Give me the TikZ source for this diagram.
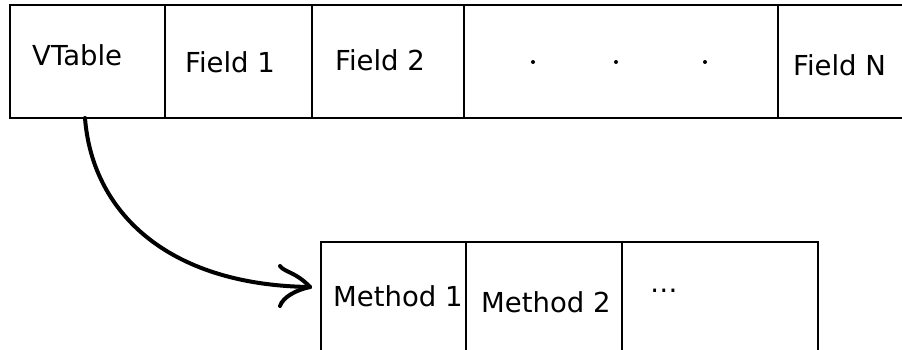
\documentclass[tikz,border=0pt]{standalone}
\usepackage{fontspec}
\setmainfont{DejaVu Sans}
\begin{document}
\begin{tikzpicture}[x=1pt,y=-1pt,
  cell/.style={draw, line width=2.3pt, inner sep=0pt, outer sep=0pt},
  lbl/.style={anchor=base west, inner sep=0pt, font=\fontsize{27.5}{30}\selectfont},
  hand/.style={line width=4pt, line cap=round, line join=round}]
\useasboundingbox (0,0) rectangle (902,349);
\fill[white] (0,0) rectangle (902,349);
\clip (0,0) rectangle (902,349);
% top row
\node[cell, minimum width=155, minimum height=113] (vt) at (87.5,61.5) {};
\node[cell, minimum width=147, minimum height=113] (f1) at (238.5,61.5) {};
\node[cell, minimum width=152, minimum height=113] (f2) at (388,61.5) {};
\node[cell, minimum width=314, minimum height=113] (fd) at (621,61.5) {};
\node[cell, minimum width=137, minimum height=113] (fn) at (846.5,61.5) {};
% bottom row
\node[cell, minimum width=145, minimum height=118] (m1) at (393.5,301) {};
\node[cell, minimum width=156, minimum height=118] (m2) at (544,301) {};
\node[cell, minimum width=196, minimum height=118] (m3) at (720,301) {};
% labels
\node[lbl] (tvt) at (32,65) {VTable};
\node[lbl] (tf1) at (185,72) {Field 1};
\node[lbl] (tf2) at (335,70) {Field 2};
\node[lbl] (tfn) at (793,75) {Field N};
\node[lbl] (tm1) at (333,306) {Method 1};
\node[lbl] (tm2) at (481,312) {Method 2};
\node[lbl] (tm3) at (650,292) {…};
% dots
\fill (533,62) circle (2);
\fill (616,62) circle (2);
\fill (705,62) circle (2);
% hand-drawn arrow
\coordinate (s) at (vt.south -| 85,0);
\coordinate (tip) at (310,287);
\draw[hand] (s) .. controls (92,210) and (165,285) .. (tip);
\draw[hand] (280,266) .. controls (284,272) and (296,272) .. (tip);
\draw[hand] (tip) .. controls (296,290) and (283,297) .. (280,306);
\end{tikzpicture}
\end{document}
